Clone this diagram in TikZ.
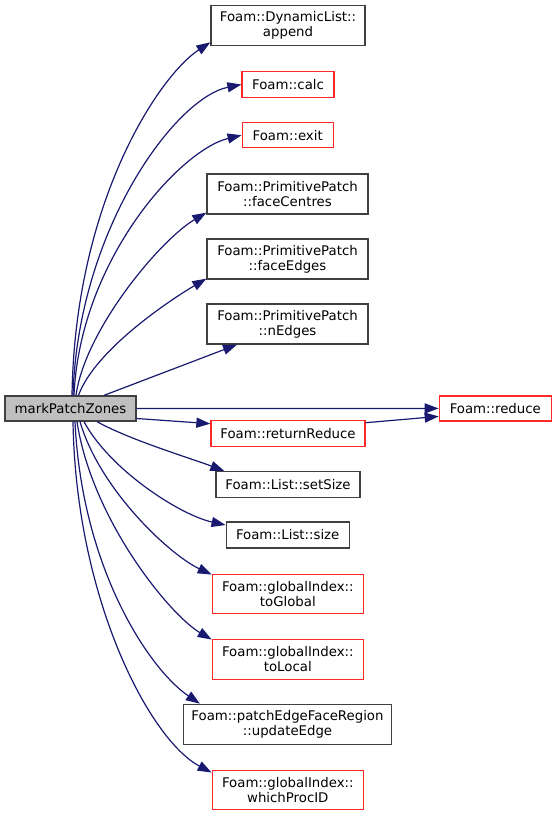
\documentclass[tikz,border=0pt]{standalone}
\usepackage{fontspec}
\setmainfont{DejaVu Sans}
\usetikzlibrary{arrows.meta,calc,positioning}
\definecolor{edgeblue}{RGB}{25,25,112}
\definecolor{markgray}{RGB}{191,191,191}
\definecolor{framegray}{RGB}{64,64,64}
\definecolor{linkred}{RGB}{255,40,40}

\begin{document}
\begin{tikzpicture}[x=1pt,y=-1pt,font=\fontsize{13.3}{15}\selectfont,>={Triangle[length=14pt,width=10pt]},
    fn/.style={draw=framegray,line width=1.3pt,inner sep=0pt,align=center},
    fnred/.style={fn,draw=linkred},
    call/.style={->,draw=edgeblue,line width=1.2pt}]
  \useasboundingbox (0,0) rectangle (556,816);
  % caller
  \node[fn,fill=markgray,minimum width=131,minimum height=25] (mark) at (70.5,408.5) {markPatchZones};
  % callees
  \node[fn,minimum width=154,minimum height=40] (append) at (288,25.7) {Foam::DynamicList::\\append};
  \node[fnred,minimum width=92,minimum height=26] (calc) at (288,84.5) {Foam::calc};
  \node[fnred,minimum width=91,minimum height=25] (exit) at (287.7,135.2) {Foam::exit};
  \node[fn,minimum width=161,minimum height=40] (fcentres) at (287.5,194) {Foam::PrimitivePatch\\::faceCentres};
  \node[fn,minimum width=161,minimum height=40] (fedges) at (287.5,259) {Foam::PrimitivePatch\\::faceEdges};
  \node[fn,minimum width=161,minimum height=40] (nedges) at (287.5,324) {Foam::PrimitivePatch\\::nEdges};
  \node[fnred,minimum width=112,minimum height=25] (reduce) at (495.3,408.4) {Foam::reduce};
  \node[fnred,minimum width=154,minimum height=26] (retreduce) at (288,433.7) {Foam::returnReduce};
  \node[fn,minimum width=144,minimum height=25.5] (setsize) at (288,484.4) {Foam::List::setSize};
  \node[fn,minimum width=123,minimum height=26] (lsize) at (287.7,535) {Foam::List::size};
  \node[fnred,minimum width=151,minimum height=39] (toglobal) at (287.8,593.7) {Foam::globalIndex::\\toGlobal};
  \node[fnred,minimum width=151,minimum height=40] (tolocal) at (287.8,659.2) {Foam::globalIndex::\\toLocal};
  \node[fn,minimum width=208,minimum height=40] (updedge) at (287.5,724.3) {Foam::patchEdgeFaceRegion\\::updateEdge};
  \node[fnred,minimum width=151,minimum height=39] (whichproc) at (287.8,789.7) {Foam::globalIndex::\\whichProcID};
  % calls upwards
  \draw[call] ($(mark.north)+(1.5,0)$) .. controls (75,200) and (160,75) .. ($(append.south west)+(0,-4)$);
  \draw[call] ($(mark.north)+(2.5,0)$) .. controls (78,230) and (175,98) .. (calc.west);
  \draw[call] ($(mark.north)+(3.5,0)$) .. controls (80,260) and (180,150) .. (exit.west);
  \draw[call] ($(mark.north)+(5.5,0)$) .. controls (85,330) and (160,240) .. ($(fcentres.south west)+(0,-2)$);
  \draw[call] ($(mark.north)+(8,0)$) .. controls (95,350) and (170,300) .. ($(fedges.south west)+(0,-1)$);
  \draw[call] ($(mark.north)+(33.5,0)$) -- ($(nedges.south)+(-50.5,0)$);
  % calls sideways
  \draw[call] (mark.east) -- (reduce.west);
  \draw[call] ($(mark.east)+(0,10)$) -- ($(retreduce.west)+(0,-10)$);
  \draw[call] ($(retreduce.east)+(0,-11)$) -- ($(reduce.west)+(0,8)$);
  % calls downwards
  \draw[call] ($(mark.south)+(26.5,0)$) .. controls (130,440) and (190,458) .. ($(setsize.north west)+(9,0)$);
  \draw[call] ($(mark.south)+(13.5,0)$) .. controls (110,470) and (180,515) .. ($(lsize.west)+(0,-10)$);
  \draw[call] ($(mark.south)+(9.5,0)$) .. controls (100,490) and (170,555) .. ($(toglobal.north west)+(0,1)$);
  \draw[call] ($(mark.south)+(6.5,0)$) .. controls (92,520) and (170,615) .. ($(tolocal.north west)+(0,1)$);
  \draw[call] ($(mark.south)+(4.5,0)$) .. controls (82,570) and (150,670) .. ($(updedge.north west)+(17,0)$);
  \draw[call] ($(mark.south)+(2.5,0)$) .. controls (76,600) and (150,740) .. ($(whichproc.north west)+(0,3)$);
\end{tikzpicture}
\end{document}
